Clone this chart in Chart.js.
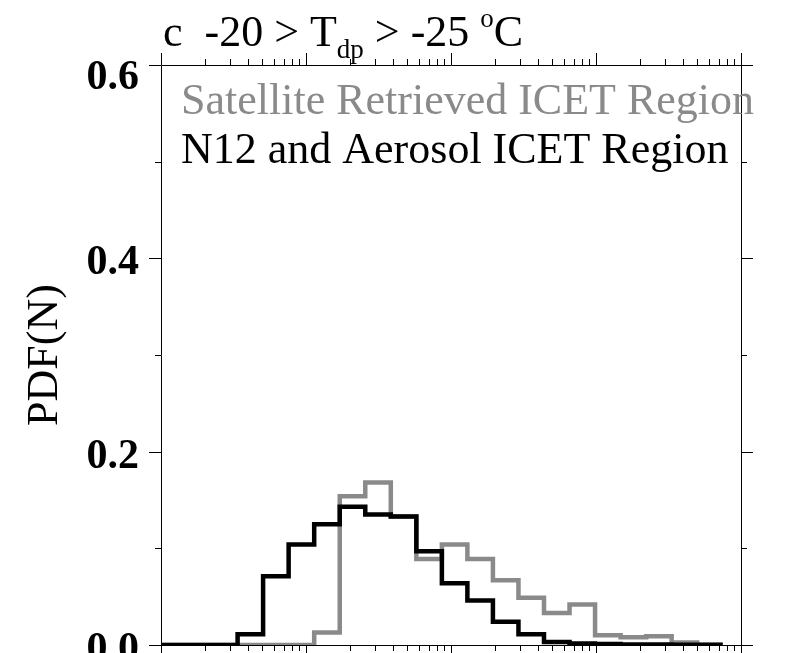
<!DOCTYPE html>
<html>
<head>
<meta charset="utf-8">
<script src="https://cdn.jsdelivr.net/npm/chart.js@4"></script>
<style>
  html, body { margin: 0; padding: 0; background: #fff; }
  #wrap { width: 807px; height: 653px; }
</style>
</head>
<body>
<div id="wrap"><canvas id="chart" width="807" height="653"></canvas></div>
<script>
// bin edges (factor 1.5 bins, log x axis)
const binEdges = [1, 1.5, 2.25, 3.375, 5.06, 7.59, 11.39, 17.09, 25.63, 38.44, 57.67,
                  86.5, 129.7, 194.6, 291.9, 437.9, 656.8, 985.3, 1478, 2217, 3325, 4988, 7482];
const satelliteVals = [0, 0, 0, 0, 0, 0, 0.013, 0.154, 0.168, 0.133, 0.089, 0.104,
                       0.089, 0.067, 0.049, 0.033, 0.042, 0.010, 0.008, 0.009, 0.0025, 0];
const n12Vals = [0, 0, 0, 0.011, 0.071, 0.104, 0.125, 0.143, 0.135, 0.133, 0.097, 0.064,
                 0.046, 0.024, 0.011, 0.003, 0.0015, 0.001, 0.0006, 0.0004, 0.0003, 0.0002];
const yMajorTicks = [0, 0.2, 0.4, 0.6];
const yMinorTicks = [0.1, 0.3, 0.5];
const yTickLabels = ['0.0', '0.2', '0.4', '0.6'];
const xDecades = [1, 10, 100, 1000, 10000];
const legendNames = ['Satellite Retrieved ICET Region', 'N12 and Aerosol ICET Region'];

const GRAY = '#8a8a8a';
const SERIF = '"Liberation Serif", "Times New Roman", serif';

function stepPoints(vals) {
  const pts = vals.map((v, i) => ({ x: binEdges[i], y: v }));
  pts.push({ x: binEdges[vals.length], y: vals[vals.length - 1] });
  return pts;
}

const axesPlugin = {
  id: 'idlAxes',
  afterDraw(chart) {
    const ctx = chart.ctx;
    const { left, right, top, bottom } = chart.chartArea;
    const xs = chart.scales.x, ys = chart.scales.y;
    ctx.save();
    ctx.strokeStyle = '#000';
    ctx.lineWidth = 1;
    ctx.beginPath();
    ctx.rect(Math.round(left) + 0.5, Math.round(top) + 0.5,
             Math.round(right - left), Math.round(bottom - top));
    ctx.stroke();

    // x ticks, top and bottom, pointing outward
    ctx.beginPath();
    xDecades.forEach((d, i) => {
      const px = Math.round(xs.getPixelForValue(d)) + 0.5;
      ctx.moveTo(px, bottom); ctx.lineTo(px, bottom + 12);
      ctx.moveTo(px, top); ctx.lineTo(px, top - 12);
      if (i < xDecades.length - 1) {
        for (let m = 2; m <= 9; m++) {
          const mx = Math.round(xs.getPixelForValue(m * d)) + 0.5;
          ctx.moveTo(mx, bottom); ctx.lineTo(mx, bottom + 6);
          ctx.moveTo(mx, top); ctx.lineTo(mx, top - 6);
        }
      }
    });
    // y ticks, left and right
    yMajorTicks.forEach(v => {
      const py = Math.round(ys.getPixelForValue(v)) + 0.5;
      ctx.moveTo(left, py); ctx.lineTo(left - 12, py);
      ctx.moveTo(right, py); ctx.lineTo(right + 12, py);
    });
    yMinorTicks.forEach(v => {
      const py = Math.round(ys.getPixelForValue(v)) + 0.5;
      ctx.moveTo(left, py); ctx.lineTo(left - 6, py);
      ctx.moveTo(right, py); ctx.lineTo(right + 6, py);
    });
    ctx.stroke();

    // y tick labels
    ctx.fillStyle = '#000';
    ctx.font = 'bold 42px ' + SERIF;
    ctx.textAlign = 'right';
    ctx.textBaseline = 'middle';
    yMajorTicks.forEach((v, i) => {
      let cy = ys.getPixelForValue(v) + 5;
      if (cy < top + 13) cy = top + 13;
      ctx.fillText(yTickLabels[i], 139, cy);
    });

    // legend text
    ctx.textAlign = 'left';
    ctx.textBaseline = 'alphabetic';
    ctx.font = '44px ' + SERIF;
    ctx.fillStyle = GRAY;
    ctx.fillText(legendNames[0], 181, 114);
    ctx.fillStyle = '#000';
    ctx.fillText(legendNames[1], 181, 163);

    // panel title with subscript / superscript
    const big = '44px ' + SERIF, small = '27px ' + SERIF;
    let x = 163;
    const base = 46;
    const part = (txt, font, dy) => {
      ctx.font = font;
      ctx.fillText(txt, x, base + dy);
      x += ctx.measureText(txt).width;
    };
    part('c  -20 > T', big, 0);
    part('dp', small, 12);
    part(' > -25 ', big, 0);
    part('o', small, -19);
    part('C', big, 0);
    ctx.restore();
  }
};

new Chart(document.getElementById('chart').getContext('2d'), {
  type: 'line',
  data: {
    datasets: [
      {
        label: legendNames[1],
        data: stepPoints(n12Vals),
        borderColor: '#000',
        borderWidth: 4.5,
        stepped: 'before',
        pointRadius: 0,
        fill: false
      },
      {
        label: legendNames[0],
        data: stepPoints(satelliteVals),
        borderColor: GRAY,
        borderWidth: 4.5,
        stepped: 'before',
        pointRadius: 0,
        fill: false
      }
    ]
  },
  options: {
    responsive: false,
    animation: false,
    devicePixelRatio: 1,
    layout: { padding: { top: 65, right: 66, left: 0, bottom: 0 } },
    plugins: { legend: { display: false }, tooltip: { enabled: false }, title: { display: false } },
    scales: {
      x: {
        type: 'logarithmic',
        min: 1,
        max: 10000,
        ticks: { display: false },
        grid: { display: false },
        border: { display: false },
        afterFit: s => { s.height = 8; }
      },
      y: {
        min: 0,
        max: 0.6,
        ticks: { display: false },
        grid: { display: false },
        border: { display: false },
        title: {
          display: true,
          text: 'PDF(N)',
          color: '#000',
          font: { family: SERIF, size: 44 },
          padding: { top: 19, bottom: 0 }
        },
        afterFit: s => { s.width = 161; }
      }
    }
  },
  plugins: [axesPlugin]
});
</script>
</body>
</html>
